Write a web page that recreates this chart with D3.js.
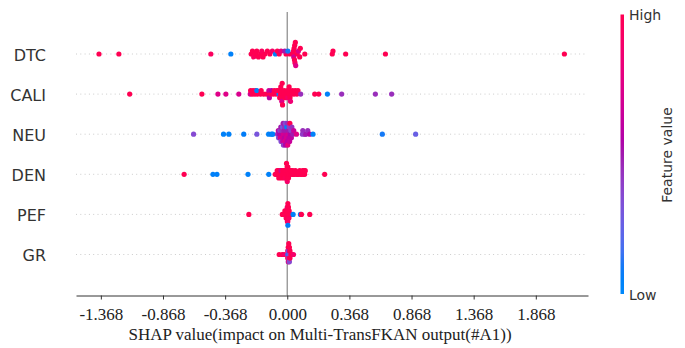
<!DOCTYPE html>
<html>
<head>
<meta charset="utf-8">
<script src="https://cdn.jsdelivr.net/npm/d3@7"></script>
<style>
  body { margin: 0; background: #fff; }
  svg { display: block; }
</style>
</head>
<body>
<svg id="chart"></svg>
<script>
const width = 685;
const height = 348;

const features = ["DTC", "CALI", "NEU", "DEN", "PEF", "GR"];

// each point: [shap value, normalised feature value (0 = low, 1 = high)]
const dtc = [
  [-1.515, 1], [-1.355, 1], [-0.615, 0.95], [-0.454, 0.05],
  [-0.29, 1], [-0.28, 1], [-0.27, 0.95],
  [-0.255, 1], [-0.245, 1], [-0.232, 1],
  [-0.215, 1], [-0.205, 0.95], [-0.195, 1],
  [-0.18, 1], [-0.16, 1], [-0.14, 1], [-0.12, 0.9],
  [-0.095, 0.05], [-0.08, 1], [-0.065, 1], [-0.05, 0.8],
  [-0.01, 1], [-0.02, 0.5], [0.02, 1], [0.005, 0.1],
  [0.045, 1], [0.05, 1], [0.052, 0.7], [0.055, 1], [0.058, 1],
  [0.06, 1], [0.062, 0.95], [0.065, 1], [0.068, 0.75],
  [0.08, 1], [0.09, 0.75], [0.1, 1], [0.105, 1],
  [0.141, 1], [0.362, 1], [0.368, 1], [0.47, 1], [0.79, 1], [2.23, 1]
];

const cali = [
  [-1.268, 1], [-0.687, 1], [-0.558, 0.75], [-0.494, 0.75], [-0.39, 0.72],
  [-0.298, 0.7], [-0.295, 1], [-0.28, 1], [-0.275, 1], [-0.26, 1], [-0.255, 1],
  [-0.24, 1], [-0.245, 0.05], [-0.215, 1], [-0.21, 1], [-0.19, 1], [-0.168, 1],
  [-0.152, 1], [-0.148, 0.65], [-0.144, 0.6], [-0.133, 1], [-0.126, 0.55],
  [-0.112, 1], [-0.104, 1], [-0.09, 1], [-0.083, 1],
  [-0.066, 0.05], [-0.072, 1], [-0.061, 1],
  [-0.054, 1], [-0.05, 1], [-0.047, 1], [-0.052, 1], [-0.044, 0.75], [-0.041, 1], [-0.038, 1],
  [-0.03, 1], [-0.025, 1], [-0.018, 1], [-0.01, 1], [0, 1], [0.004, 0.9],
  [0.012, 1], [0.018, 1], [0.022, 1], [0.015, 1], [0.026, 0.85],
  [0.035, 1], [0.042, 1], [0.055, 1], [0.064, 1], [0.078, 1], [0.086, 1], [0.108, 0.45],
  [0.221, 1], [0.253, 1], [0.323, 0.05], [0.438, 0.45], [0.709, 0.45], [0.84, 0.45]
];

const neu = [
  [-0.754, 0.35], [-0.513, 0.05], [-0.47, 0.05], [-0.35, 0.08], [-0.245, 0.3],
  [-0.15, 0.05], [-0.127, 0.08], [-0.117, 0.05],
  [-0.078, 0.45], [-0.072, 0.6], [-0.07, 0.35],
  [-0.063, 0.55], [-0.06, 0.4], [-0.057, 0.7], [-0.052, 0.5], [-0.05, 0.35],
  [-0.046, 0.6], [-0.044, 0.45], [-0.04, 0.7], [-0.038, 0.3], [-0.036, 0.65], [-0.033, 0.5], [-0.031, 0.4],
  [-0.029, 0.7], [-0.026, 0.5], [-0.024, 0.6], [-0.02, 0.45], [-0.018, 0.75], [-0.016, 0.35], [-0.014, 0.55],
  [-0.011, 0.65], [-0.008, 0.5], [-0.006, 0.7], [-0.004, 0.05], [-0.001, 0.6], [0.002, 0.45], [0.004, 0.8],
  [0.007, 0.7], [0.01, 0.5], [0.013, 0.6], [0.016, 0.4], [0.019, 0.65], [0.021, 1],
  [0.025, 0.55], [0.029, 0.4], [0.033, 0.6], [0.037, 0.45],
  [0.045, 0.5], [0.052, 0.65], [0.074, 0.75],
  [0.122, 0.4], [0.125, 0.45], [0.141, 0.4], [0.149, 0.5], [0.165, 0.45], [0.181, 0.55], [0.207, 0.05],
  [0.765, 0.1], [1.033, 0.25]
];

const den = [
  [-0.83, 1], [-0.598, 0.05], [-0.566, 0.05], [-0.316, 0.05], [-0.149, 0.05],
  [-0.097, 1], [-0.086, 1], [-0.081, 1], [-0.076, 1], [-0.071, 1], [-0.068, 1],
  [-0.064, 1], [-0.058, 1], [-0.054, 1], [-0.05, 0.7], [-0.046, 1],
  [-0.042, 1], [-0.037, 1], [-0.031, 1], [-0.027, 1], [-0.023, 1],
  [-0.02, 1], [-0.015, 1], [-0.012, 0.95],
  [-0.008, 1], [-0.005, 1], [-0.003, 1], [-0.001, 1], [0, 0.9], [-0.006, 1],
  [0.003, 1], [0.007, 1], [0.01, 1], [0.005, 1], [0.015, 1], [0.021, 1],
  [0.028, 1], [0.032, 1], [0.04, 1], [0.045, 1], [0.05, 1], [0.058, 1], [0.066, 1],
  [0.075, 1], [0.084, 1], [0.092, 1], [0.1, 1], [0.108, 1], [0.116, 1], [0.124, 1],
  [0.13, 1], [0.136, 1], [0.14, 1], [0.145, 1], [0.301, 1]
];

const pef = [
  [-0.309, 1], [-0.04, 1], [-0.03, 1], [-0.02, 1], [-0.019, 1],
  [-0.011, 1], [-0.01, 1], [-0.009, 1], [-0.005, 1], [-0.004, 1], [-0.006, 0.9],
  [0, 1], [0.001, 1], [-0.001, 1], [0, 0.85], [0.001, 1],
  [0.004, 1], [0.005, 1], [0.003, 1], [0.006, 1], [0.004, 0.9], [0.005, 1], [0.005, 0.08],
  [0.009, 1], [0.01, 1], [0.011, 1], [0.009, 1], [0.014, 1], [0.015, 1], [0.013, 0.95],
  [0.02, 1], [0.022, 1], [0.028, 1], [0.035, 1],
  [0.047, 0.05], [0.106, 0.08], [0.114, 1], [0.181, 1]
];

const gr = [
  [-0.065, 1], [-0.04, 1], [-0.025, 0.9],
  [0.004, 0.3], [0.004, 1], [0.004, 1],
  [0.008, 0.1], [0.008, 0.4], [0.008, 1], [0.008, 1], [0.008, 0.45],
  [0.012, 0.15], [0.012, 0.3], [0.012, 0.35], [0.012, 1], [0.012, 0.9], [0.012, 1],
  [0.017, 0.2], [0.017, 0.5], [0.017, 1], [0.017, 1], [0.017, 0.35],
  [0.022, 0.35], [0.022, 1], [0.022, 1],
  [0.03, 1], [0.04, 1], [0.05, 0.9]
];

const tickValues = [-1.5, -1, -0.5, 0, 0.5, 1, 1.5, 2];
const tickLabels = ["-1.368", "-0.868", "-0.368", "0.000", "0.368", "0.868", "1.368", "1.868"];

const rows = [dtc, cali, neu, den, pef, gr];

const svg = d3.select("#chart").attr("width", width).attr("height", height);

const x = d3.scaleLinear().domain([-1.7, 2.42]).range([76, 588]);
const y = d3.scalePoint().domain(features).range([54, 254.5]);
const rowStep = y.step();

// shap's red_blue map: lch from blue to red, lightness dips to 40 in the middle
const toDeg = 180 / Math.PI;
const redBlue = t => {
  const l = t < 0.5 ? 54 - 28 * t : 40 + 28 * (t - 0.5);
  const c = 70 + 20 * t;
  const h = (4.6588 + (0.35470565 + 2 * Math.PI - 4.6588) * t) * toDeg;
  return d3.hcl(h, c, l).formatHex();
};
const color = d3.scaleSequential(redBlue).domain([0, 1]);

// beeswarm offsets the way shap does it: bin values, stack alternately up / down
function swarm(points) {
  const vals = points.map(d => d[0]);
  const lo = d3.min(vals);
  const hi = d3.max(vals);
  const nbins = 100;
  const quant = vals.map(v => Math.round(nbins * (v - lo) / (hi - lo + 1e-8)));
  const order = d3.range(points.length).sort((a, b) => quant[a] - quant[b] || a - b);
  const ys = new Array(points.length).fill(0);
  let layer = 0;
  let last = -1;
  order.forEach(i => {
    if (quant[i] !== last) layer = 0;
    ys[i] = Math.ceil(layer / 2) * ((layer % 2) * 2 - 1);
    layer += 1;
    last = quant[i];
  });
  const m = d3.max(ys) + 1;
  return ys.map(v => v * 0.9 * (0.4 / m));
}

// dotted row guides
svg
  .selectAll(".guide")
  .data(features)
  .enter()
  .append("line")
  .attr("class", "guide")
  .attr("x1", 76)
  .attr("x2", 587)
  .attr("y1", d => y(d))
  .attr("y2", d => y(d))
  .attr("stroke", "#cccccc")
  .attr("stroke-width", 1)
  .attr("stroke-dasharray", "1,3.3");

// zero line
svg
  .append("line")
  .attr("x1", x(0))
  .attr("x2", x(0))
  .attr("y1", 12)
  .attr("y2", 295.5)
  .attr("stroke", "#999999")
  .attr("stroke-width", 1.4);

rows.forEach((pts, i) => {
  const offs = swarm(pts);
  const cy = y(features[i]);
  svg
    .append("g")
    .selectAll("circle")
    .data(pts)
    .enter()
    .append("circle")
    .attr("cx", d => x(d[0]))
    .attr("cy", (d, j) => cy - offs[j] * rowStep)
    .attr("r", 2.6)
    .attr("fill", d => color(d[1]));
});

// feature names
svg
  .selectAll(".feat")
  .data(features)
  .enter()
  .append("text")
  .attr("class", "feat")
  .attr("x", 46)
  .attr("y", d => y(d) + 6.5)
  .attr("text-anchor", "end")
  .attr("font-family", "DejaVu Sans")
  .attr("font-size", 16)
  .attr("fill", "#333")
  .text(d => d);

// x axis
const xAxis = d3
  .axisBottom(x)
  .tickValues(tickValues)
  .tickFormat((d, i) => tickLabels[i])
  .tickSize(4)
  .tickSizeOuter(0);

const gx = svg
  .append("g")
  .attr("transform", "translate(0, 295.5)")
  .call(xAxis);

gx.select(".domain").attr("stroke", "#333");
gx.selectAll(".tick line").attr("stroke", "#333");
gx.selectAll(".tick text")
  .attr("y", 24)
  .attr("dy", null)
  .attr("font-family", "Liberation Serif")
  .attr("font-size", 17)
  .attr("fill", "#222");

svg
  .append("text")
  .attr("x", 320)
  .attr("y", 339.5)
  .attr("text-anchor", "middle")
  .attr("font-family", "Liberation Serif")
  .attr("font-size", 17)
  .attr("fill", "#222")
  .text("SHAP value(impact on Multi-TransFKAN output(#A1))");

// colour bar
const grad = svg
  .append("defs")
  .append("linearGradient")
  .attr("id", "cbar")
  .attr("x1", 0)
  .attr("y1", 1)
  .attr("x2", 0)
  .attr("y2", 0);

grad
  .selectAll("stop")
  .data(d3.range(0, 1.0001, 0.05))
  .enter()
  .append("stop")
  .attr("offset", d => d)
  .attr("stop-color", d => color(d));

svg
  .append("rect")
  .attr("x", 620.5)
  .attr("y", 14.5)
  .attr("width", 3.5)
  .attr("height", 279.5)
  .attr("fill", "url(#cbar)");

svg
  .append("text")
  .attr("x", 629)
  .attr("y", 20)
  .attr("font-family", "DejaVu Sans")
  .attr("font-size", 14)
  .attr("fill", "#333")
  .text("High");

svg
  .append("text")
  .attr("x", 629)
  .attr("y", 299.5)
  .attr("font-family", "DejaVu Sans")
  .attr("font-size", 14)
  .attr("fill", "#333")
  .text("Low");

svg
  .append("text")
  .attr("transform", "translate(672, 155) rotate(-90)")
  .attr("text-anchor", "middle")
  .attr("font-family", "DejaVu Sans")
  .attr("font-size", 14)
  .attr("fill", "#333")
  .text("Feature value");
</script>
</body>
</html>
